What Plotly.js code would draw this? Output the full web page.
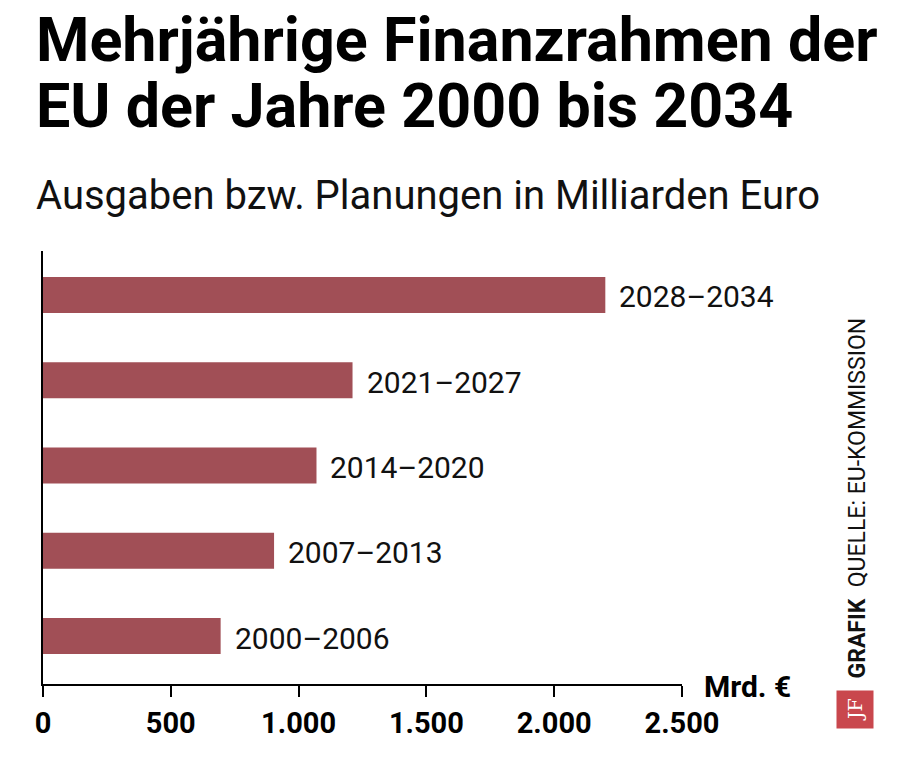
<!DOCTYPE html>
<html>
<head>
<meta charset="utf-8">
<script src="https://cdn.plot.ly/plotly-3.0.1.min.js"></script>
<style>
  html, body { margin: 0; padding: 0; background: #ffffff; }
  #chart { width: 900px; height: 769px; }
</style>
</head>
<body>
<div id="chart"></div>
<script>
// Multiannual financial frameworks of the EU, billions of euro
const periods = ['2000–2006', '2007–2013', '2014–2020', '2021–2027', '2028–2034'];
const budget = [695, 904, 1070, 1211, 2200];
const tickVals = [0, 500, 1000, 1500, 2000, 2500];
const tickText = ['0', '500', '1.000', '1.500', '2.000', '2.500'];

const W = 900, H = 769;
const M = { l: 43, r: 218, t: 251, b: 85 };
const PW = W - M.l - M.r, PH = H - M.t - M.b;
// pixel -> paper helpers for free-standing text
const fx = px => (px - M.l) / PW;
const fy = py => (H - M.b - py) / PH;

const sans = 'Roboto, Liberation Sans, sans-serif';

const barColor = '#a14f56';

const trace = {
  type: 'bar',
  orientation: 'h',
  x: budget,
  y: periods,
  width: 0.42,
  marker: { color: barColor, line: { width: 0 } },
  hoverinfo: 'skip'
};

// period label to the right of each bar
const barLabels = periods.map((p, i) => ({
  x: budget[i], y: p, xref: 'x', yref: 'y',
  text: p, showarrow: false,
  xanchor: 'left', yanchor: 'middle', xshift: 12, yshift: -2,
  font: { family: sans, size: 30, color: '#111111' }
}));

const annotations = barLabels.concat([
  {
    xref: 'paper', yref: 'paper', x: fx(34), y: fy(40),
    xanchor: 'left', yanchor: 'middle', showarrow: false,
    text: 'Mehrjährige Finanzrahmen der',
    font: { family: sans, size: 61, weight: 'bold', color: '#000000' }
  },
  {
    xref: 'paper', yref: 'paper', x: fx(34), y: fy(106),
    xanchor: 'left', yanchor: 'middle', showarrow: false,
    text: 'EU der Jahre 2000 bis 2034',
    font: { family: sans, size: 61, weight: 'bold', color: '#000000' }
  },
  {
    xref: 'paper', yref: 'paper', x: fx(34), y: fy(195),
    xanchor: 'left', yanchor: 'middle', showarrow: false,
    text: 'Ausgaben bzw. Planungen in Milliarden Euro',
    font: { family: sans, size: 40, color: '#111111' }
  },
  {
    xref: 'paper', yref: 'paper', x: fx(702), y: fy(686),
    xanchor: 'left', yanchor: 'middle', showarrow: false,
    text: 'Mrd. €',
    font: { family: sans, size: 30, weight: 'bold', color: '#000000' }
  },
  {
    xref: 'paper', yref: 'paper', x: fx(857), y: fy(681),
    xanchor: 'center', yanchor: 'bottom', showarrow: false, textangle: -90,
    text: '<b>GRAFIK</b>  QUELLE: EU-KOMMISSION',
    font: { family: sans, size: 23, color: '#111111' }
  },
  {
    xref: 'paper', yref: 'paper', x: fx(855), y: fy(709),
    xanchor: 'center', yanchor: 'middle', showarrow: false, textangle: -90,
    text: 'JF', bgcolor: '#c9474d', borderpad: 7,
    font: { family: 'DejaVu Serif, Liberation Serif, serif', size: 19, color: '#ffffff' }
  }
]);

const layout = {
  width: W, height: H,
  margin: M,
  paper_bgcolor: '#ffffff',
  plot_bgcolor: '#ffffff',
  showlegend: false,
  separators: ',.',
  xaxis: {
    range: [0, 2500],
    showgrid: false, zeroline: false,
    showline: true, linecolor: '#000000', linewidth: 2,
    ticks: 'outside', ticklen: 11, tickwidth: 2, tickcolor: '#000000',
    tickmode: 'array', tickvals: tickVals, ticktext: tickText,
    tickfont: { family: sans, size: 29, weight: 'bold', color: '#000000' },
    ticklabelstandoff: 1,
    fixedrange: true
  },
  yaxis: {
    type: 'category',
    range: [-0.563, 4.516],
    showgrid: false, zeroline: false,
    showline: true, linecolor: '#000000', linewidth: 2,
    ticks: '', showticklabels: false,
    fixedrange: true
  },
  annotations: annotations
};

Plotly.newPlot('chart', [trace], layout, { displayModeBar: false, staticPlot: true });
</script>
</body>
</html>
